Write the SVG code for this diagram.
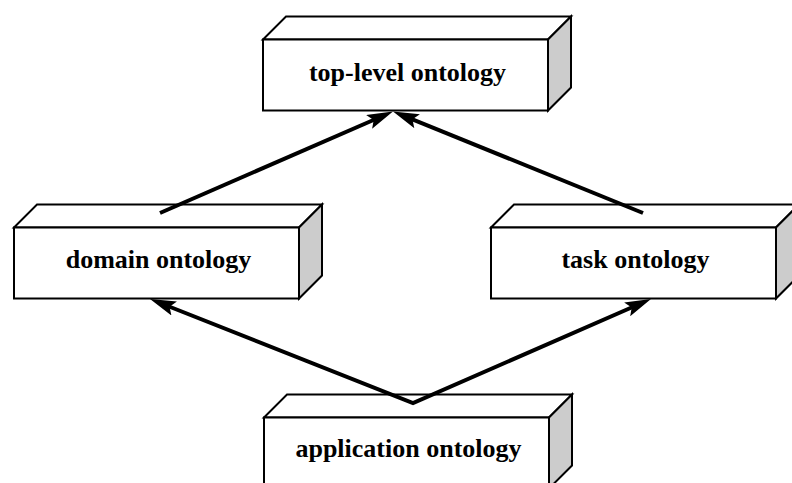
<svg xmlns="http://www.w3.org/2000/svg" xmlns:xlink="http://www.w3.org/1999/xlink" width="792" height="483" viewBox="0 0 792 483">
  <style>
    .front { fill: #ffffff; stroke: #000000; stroke-width: 2; }
    .top { fill: #ffffff; stroke: #000000; stroke-width: 2; stroke-linejoin: miter; }
    .side { fill: #cccccc; stroke: #000000; stroke-width: 2; stroke-linejoin: miter; }
    .label { font-family: "Liberation Serif", "Times New Roman", serif; font-weight: bold; font-size: 26px; fill: #000000; text-anchor: middle; }
    .edge { fill: none; stroke: #000000; stroke-width: 4; stroke-linejoin: miter; stroke-miterlimit: 10; }
  </style>
  <defs>
    <!-- 3D block: front face, top face, shaded right face -->
    <g id="block">
      <polygon class="top" points="0,0 23,-23 308,-23 285,0"/>
      <polygon class="side" points="285,0 308,-23 308,48 285,71"/>
      <rect class="front" x="0" y="0" width="285" height="71"/>
    </g>
    <marker id="head" markerUnits="userSpaceOnUse" markerWidth="26" markerHeight="15" viewBox="0 0 26 15" refX="11" refY="7.5" orient="auto-start-reverse">
      <path d="M0,0 L26,7.5 L0,15 L5,7.5 Z" fill="#000000"/>
    </marker>
  </defs>

  <rect width="792" height="483" fill="#ffffff"/>

  <g id="top-level-ontology" transform="translate(263,39.5)">
    <use xlink:href="#block"/>
    <text class="label" x="144.5" y="41">top-level ontology</text>
  </g>

  <g id="domain-ontology" transform="translate(14,227.5)">
    <use xlink:href="#block"/>
    <text class="label" x="144.5" y="40">domain ontology</text>
  </g>

  <g id="task-ontology" transform="translate(491,227.5)">
    <use xlink:href="#block"/>
    <text class="label" x="144.5" y="40">task ontology</text>
  </g>

  <g id="application-ontology" transform="translate(264,417.5)">
    <use xlink:href="#block"/>
    <text class="label" x="144.5" y="39">application ontology</text>
  </g>

  <g id="connectors">
    <path class="edge" d="M160,213 L379.2,117.5" marker-end="url(#head)"/>
    <path class="edge" d="M643,213 L406.9,117.1" marker-end="url(#head)"/>
    <path class="edge" d="M163.95,304.5 L413,403 L637.25,305" marker-start="url(#head)" marker-end="url(#head)"/>
  </g>
</svg>
